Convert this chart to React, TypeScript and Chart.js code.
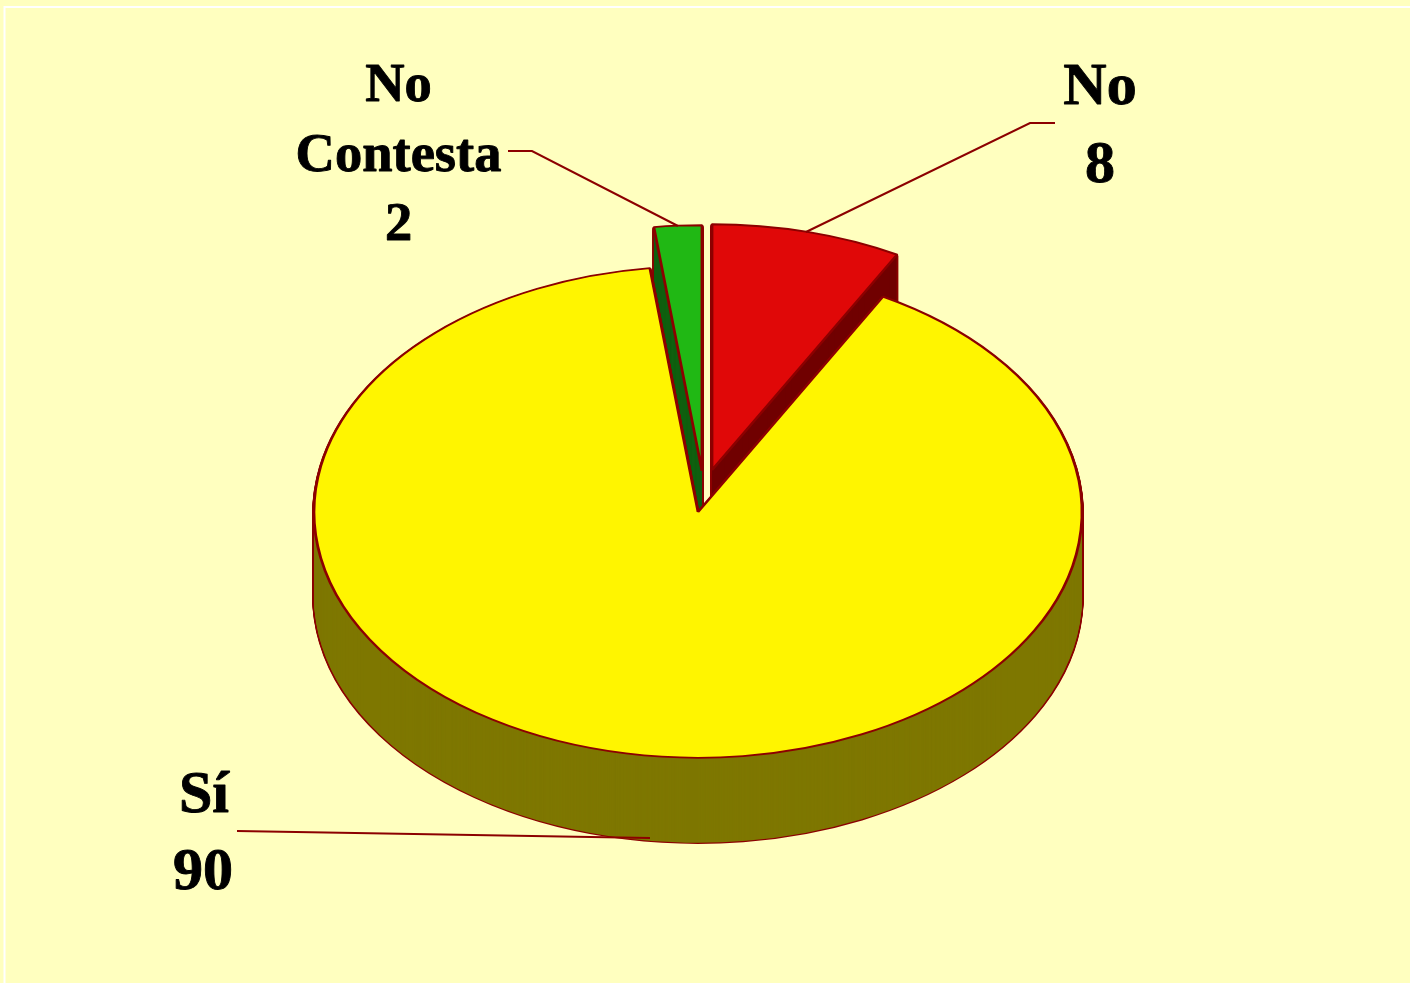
import React, { useEffect, useRef } from "react";
import { Chart, registerables } from "chart.js";

Chart.register(...registerables);

const categories = ["No", "Sí", "No Contesta"];
const values = [8, 90, 2];
const faceColors = ["#e00808", "#fff500", "#20b814"];
const sideColors = ["#700000", "#7e7700", "#106010"];

const EDGE = "#8c0000";
const PAGE_BG = "#ffffbf";
const TILT = 0.64;
const DEPTH = 85;
// draw order: exploded wedges first, the large slice over their sides
const DRAW_ORDER = [0, 2, 1];
const EXPLODE = [
  { x: 14, y: -42 },
  { x: 0, y: 0 },
  { x: 4, y: -41 },
];

const LABELS = [
  { text: "No", x: 398.5, y: 100.5, size: 54.5 },
  { text: "Contesta", x: 398.5, y: 170.5, size: 54.5 },
  { text: "2", x: 398.5, y: 240, size: 54.5 },
  { text: "No", x: 1100, y: 103.5, size: 60 },
  { text: "8", x: 1100, y: 181.5, size: 60 },
  { text: "Sí", x: 204, y: 811.5, size: 60 },
  { text: "90", x: 203, y: 888.5, size: 60 },
];
const LEADERS = [
  [[508, 151], [532, 151], [678, 226]],
  [[1055, 123], [1030, 123], [806, 232]],
  [[237, 831], [650, 838]],
];

const pie3d = {
  id: "pie3d",
  beforeDraw(chart: any) {
    const { ctx, width, height } = chart;
    ctx.save();
    ctx.fillStyle = PAGE_BG;
    ctx.fillRect(0, 0, width, height);
    ctx.strokeStyle = "#ffffff";
    ctx.lineWidth = 2;
    ctx.strokeRect(4.5, 7, width + 20, height + 20);
    ctx.restore();
  },
  beforeDatasetsDraw(chart: any) {
    const { ctx } = chart;
    const arcs = chart.getDatasetMeta(0).data;

    const paint = (el: any, i: number, lift: number, over: any) => {
      const saved = el.options;
      ctx.save();
      ctx.translate(el.x + EXPLODE[i].x, el.y + EXPLODE[i].y + lift);
      ctx.scale(1, TILT);
      ctx.translate(-el.x, -el.y);
      el.options = { ...saved, ...over };
      el.draw(ctx);
      el.options = saved;
      ctx.restore();
    };

    DRAW_ORDER.forEach((i) => {
      const el = arcs[i];
      for (let d = DEPTH; d >= 1; d--) {
        paint(el, i, d, { backgroundColor: "rgba(0,0,0,0)", borderColor: EDGE, borderWidth: 3.5 });
      }
      for (let d = DEPTH; d >= 1; d--) {
        paint(el, i, d, { backgroundColor: sideColors[i], borderWidth: 0 });
      }
      paint(el, i, 0, { backgroundColor: faceColors[i], borderColor: EDGE, borderWidth: 2.8 });
    });
    return false;
  },
  afterDraw(chart: any) {
    const { ctx } = chart;
    ctx.save();
    ctx.strokeStyle = EDGE;
    ctx.lineWidth = 2;
    LEADERS.forEach((pts) => {
      ctx.beginPath();
      pts.forEach(([x, y], k) => (k ? ctx.lineTo(x, y) : ctx.moveTo(x, y)));
      ctx.stroke();
    });
    ctx.fillStyle = "#000000";
    ctx.strokeStyle = "#000000";
    ctx.lineWidth = 0.9;
    ctx.lineJoin = "round";
    ctx.textAlign = "center";
    ctx.textBaseline = "alphabetic";
    LABELS.forEach((l) => {
      ctx.font = `bold ${l.size}px "Liberation Serif"`;
      ctx.fillText(l.text, l.x, l.y);
      ctx.strokeText(l.text, l.x, l.y);
    });
    ctx.restore();
  },
};

export default function App() {
  const ref = useRef<HTMLCanvasElement>(null);
  useEffect(() => {
    document.body.style.margin = "0";
    const chart = new Chart(ref.current!, {
      type: "pie",
      data: {
        labels: categories,
        datasets: [{ data: values, backgroundColor: faceColors, borderColor: EDGE, borderWidth: 2 }],
      },
      options: {
        responsive: false,
        animation: false,
        radius: 384,
        layout: { padding: { right: 14, top: 41 } },
        plugins: { legend: { display: false }, tooltip: { enabled: false } },
      },
      plugins: [pie3d],
    } as any);
    return () => chart.destroy();
  }, []);
  return <canvas ref={ref} width={1410} height={983} style={{ display: "block" }} />;
}
